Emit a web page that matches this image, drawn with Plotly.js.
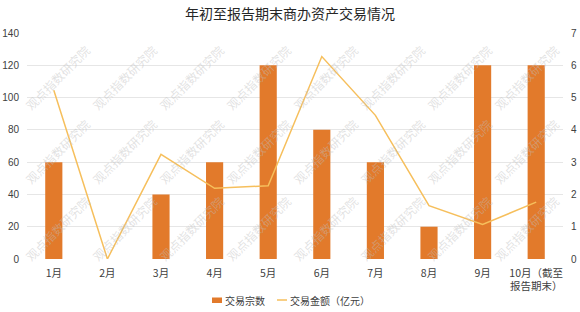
<!DOCTYPE html>
<html>
<head>
<meta charset="utf-8">
<script src="https://cdn.plot.ly/plotly-3.0.1.min.js"></script>
<style>html,body{margin:0;padding:0;background:#fff;}#chart{width:580px;height:312px;}</style>
</head>
<body>
<div id="chart"></div>
<script>
// 月份类目
const months = ['1月', '2月', '3月', '4月', '5月', '6月', '7月', '8月', '9月', '10月（截至<br>报告期末）'];
// 交易宗数（宗）
const dealCounts = [60, 0, 40, 60, 120, 80, 60, 20, 120, 120];
// 交易金额（亿元）
const dealAmounts = [5.23, 0, 3.24, 2.19, 2.27, 6.27, 4.45, 1.65, 1.07, 1.76];

const countName = '交易宗数';
const amountName = '交易金额（亿元）';
const watermarkText = '观点指数研究院';

const BAR_COLOR = '#E27A2B';
const LINE_COLOR = '#F6BF5C';
const FONT = '"Noto Sans CJK SC", "Noto Sans", sans-serif';
const NUM_FONT = '"Liberation Sans", Arial, sans-serif';

const traces = [
  {
    type: 'bar',
    name: countName,
    x: months,
    y: dealCounts,
    marker: {color: BAR_COLOR},
    yaxis: 'y',
    showlegend: false
  },
  {
    type: 'scatter',
    mode: 'lines',
    name: amountName,
    x: months,
    y: dealAmounts,
    line: {color: LINE_COLOR, width: 1.5},
    yaxis: 'y2',
    showlegend: false
  }
];

// 图例：色块 + 文字（置于图表底部居中）
const shapes = [
  {type: 'rect', xref: 'paper', yref: 'paper', x0: (212 - 27) / 536, x1: (222 - 27) / 536,
   y0: (259 - 303) / 226, y1: (259 - 297.5) / 226, fillcolor: BAR_COLOR, line: {width: 0}},
  {type: 'line', xref: 'paper', yref: 'paper', x0: (277 - 27) / 536, x1: (287 - 27) / 536,
   y0: (259 - 300) / 226, y1: (259 - 300) / 226, line: {color: LINE_COLOR, width: 1.5}}
];

const annotations = [
  {text: countName, xref: 'paper', yref: 'paper', x: (223 - 27) / 536, y: (259 - 300.5) / 226,
   xanchor: 'left', yanchor: 'middle', showarrow: false,
   font: {family: FONT, size: 10, color: '#404040'}},
  {text: amountName, xref: 'paper', yref: 'paper', x: (288 - 27) / 536, y: (259 - 300.5) / 226,
   xanchor: 'left', yanchor: 'middle', showarrow: false,
   font: {family: FONT, size: 10, color: '#404040'}}
];

// 水印：斜向重复排列
const wmCols = [57, 124, 191, 258, 325, 392, 459, 526];
const wmRows = [77, 151, 228];
wmRows.forEach(py => {
  wmCols.forEach(px => {
    annotations.push({
      text: watermarkText, xref: 'paper', yref: 'paper',
      x: (px - 27) / 536, y: (259 - py) / 226,
      xanchor: 'center', yanchor: 'middle', showarrow: false, textangle: -45,
      font: {family: FONT, size: 12, color: 'rgba(190,190,190,0.45)'}
    });
  });
});

const layout = {
  width: 580,
  height: 312,
  margin: {l: 27, r: 17, t: 33, b: 53},
  paper_bgcolor: '#ffffff',
  plot_bgcolor: '#ffffff',
  font: {family: FONT, size: 10, color: '#404040'},
  title: {
    text: '年初至报告期末商办资产交易情况',
    font: {family: FONT, size: 14, color: '#262626'},
    x: 0.5, xanchor: 'center',
    y: 0.955, yanchor: 'middle'
  },
  bargap: 0.68,
  showlegend: false,
  shapes: shapes,
  annotations: annotations,
  xaxis: {
    type: 'category',
    showgrid: false,
    zeroline: false,
    showline: false,
    ticks: '',
    ticklabelstandoff: 6,
    tickfont: {family: FONT, size: 10.5, color: '#404040'},
    automargin: false
  },
  yaxis: {
    range: [0, 140],
    dtick: 20,
    showgrid: true,
    gridcolor: '#e6e6e6',
    gridwidth: 1,
    zeroline: false,
    showline: false,
    ticks: '',
    ticklabelstandoff: 7,
    tickfont: {family: NUM_FONT, size: 10, color: '#404040'},
    automargin: false
  },
  yaxis2: {
    range: [0, 7],
    dtick: 1,
    overlaying: 'y',
    side: 'right',
    showgrid: false,
    zeroline: false,
    showline: false,
    ticks: '',
    ticklabelstandoff: 7,
    tickfont: {family: NUM_FONT, size: 10, color: '#404040'},
    automargin: false
  }
};

Plotly.newPlot('chart', traces, layout, {displayModeBar: false, staticPlot: true});
</script>
</body>
</html>
